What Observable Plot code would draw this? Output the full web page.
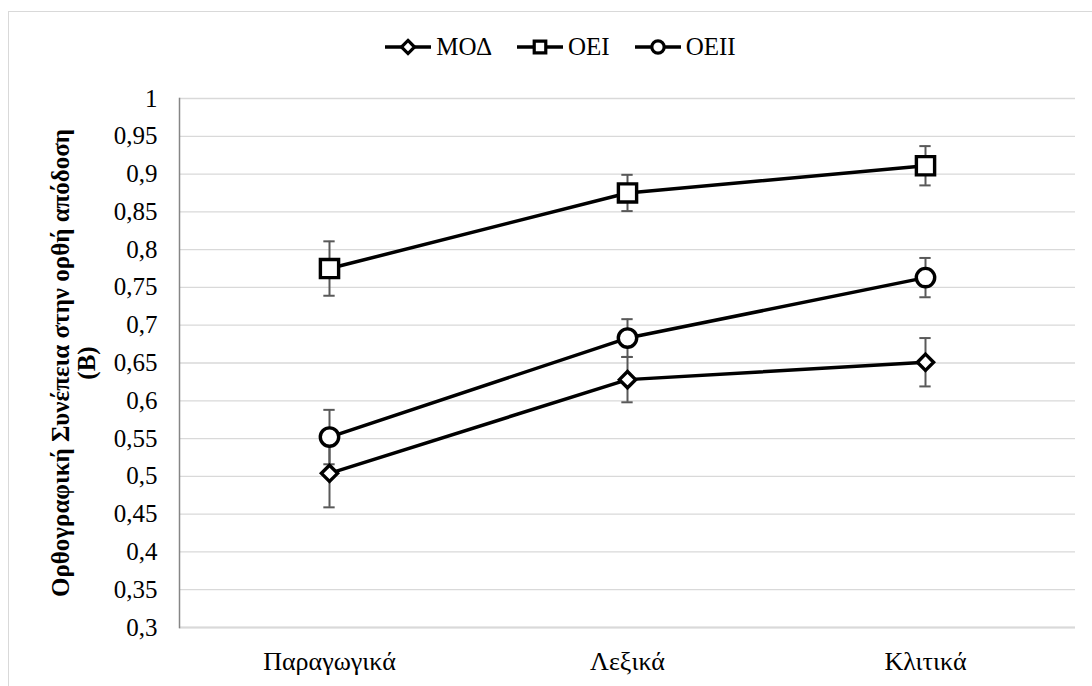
<!DOCTYPE html>
<html>
<head>
<meta charset="utf-8">
<script src="https://cdn.jsdelivr.net/npm/d3@7"></script>
<script src="https://cdn.jsdelivr.net/npm/@observablehq/plot@0.6"></script>
<style>
  html, body { margin: 0; padding: 0; background: #fff; overflow: hidden; font-family: serif; }
  #wrap { position: relative; width: 1092px; height: 686px; font-family: serif; }
  #border { position: absolute; left: 8px; top: 11px; width: 1100px; height: 700px; border: 1px solid #d9d9d9; box-sizing: border-box; }
  #legend { position: relative; height: 70px; display: flex; justify-content: center; align-items: center; gap: 24px; padding-left: 28px; padding-top: 24px; box-sizing: border-box; font-size: 25px; color: #000; }
  .item { display: flex; align-items: center; gap: 4px; }
  #chart { position: relative; }
  #chart svg { display: block; }
  #chart svg text { font-family: serif; }
</style>
</head>
<body>
<div id="wrap">
  <div id="border"></div>
  <div id="legend"></div>
  <div id="chart"></div>
</div>
<script>
// Word types on the x axis
const categories = ["Παραγωγικά", "Λεξικά", "Κλιτικά"];
// Series names and marker symbols
const seriesNames = ["ΜΟΔ", "ΟΕΙ", "ΟΕΙΙ"];
const seriesSymbols = ["diamond2", "square2", "circle"];
// Mean orthographic consistency per group
const modValues = [0.504, 0.628, 0.651];
const oeiValues = [0.775, 0.875, 0.911];
const oeiiValues = [0.552, 0.683, 0.763];
// Error-bar half widths
const modErrors = [0.045, 0.030, 0.032];
const oeiErrors = [0.036, 0.024, 0.026];
const oeiiErrors = [0.036, 0.025, 0.026];
// Y-axis ticks
const yTicks = [0.3, 0.35, 0.4, 0.45, 0.5, 0.55, 0.6, 0.65, 0.7, 0.75, 0.8, 0.85, 0.9, 0.95, 1];
const yTitle = "Ορθογραφική Συνέπεια στην ορθή απόδοση\n(Β)";

const valueSets = [modValues, oeiValues, oeiiValues];
const errorSets = [modErrors, oeiErrors, oeiiErrors];
const markerR = {diamond2: 7.3, square2: 11.6, circle: 9.2};

const rows = [];
seriesNames.forEach((s, si) => {
  categories.forEach((c, ci) => {
    rows.push({series: s, symbol: seriesSymbols[si], cat: c, value: valueSets[si][ci], err: errorSets[si][ci]});
  });
});

const fmt = d => String(+d.toFixed(2)).replace(".", ",");

const W = 1092, ML = 179, MR = 17;
const bandW = (W - ML - MR) / categories.length;
const capHalf = 6;
const capInset = bandW / 2 - capHalf;

const chart = Plot.plot({
  width: W,
  height: 616,
  marginLeft: ML,
  marginRight: MR,
  marginTop: 28,
  marginBottom: 59,
  style: "font-family: serif; color: #000; background: transparent;",
  x: {type: "band", domain: categories, padding: 0, label: null},
  y: {domain: [0.3, 1], label: null},
  marks: [
    Plot.gridY(yTicks, {stroke: "#d9d9d9", strokeOpacity: 1, strokeWidth: 1.3}),
    Plot.ruleY([0.3], {stroke: "#d9d9d9", strokeWidth: 2}),
    Plot.frame({anchor: "left", stroke: "#868686", strokeWidth: 1.5}),
    Plot.axisY({ticks: yTicks, tickSize: 0, tickPadding: 22, tickFormat: fmt, fontSize: 25, label: null}),
    Plot.axisX({tickSize: 0, tickPadding: 24, fontSize: 26, label: null}),
    Plot.text([yTitle], {frameAnchor: "left", rotate: -90, dx: -106, fontWeight: "bold", fontSize: 25, lineHeight: 1.05, textAnchor: "middle", fill: "#000"}),
    // error bars
    Plot.ruleX(rows, {x: "cat", y1: d => d.value - d.err, y2: d => d.value + d.err, stroke: "#595959", strokeWidth: 2}),
    Plot.tickY(rows, {x: "cat", y: d => d.value - d.err, stroke: "#595959", strokeWidth: 2, insetLeft: capInset, insetRight: capInset}),
    Plot.tickY(rows, {x: "cat", y: d => d.value + d.err, stroke: "#595959", strokeWidth: 2, insetLeft: capInset, insetRight: capInset}),
    // series lines and markers
    Plot.line(rows, {x: "cat", y: "value", z: "series", stroke: "#000", strokeWidth: 3.5}),
    ...seriesSymbols.map(sym => Plot.dot(rows.filter(d => d.symbol === sym), {x: "cat", y: "value", symbol: sym, r: markerR[sym], fill: "#fff", stroke: "#000", strokeWidth: 3.4}))
  ]
});
chart.setAttribute("font-family", "serif");
document.getElementById("chart").appendChild(chart);

// Legend: line swatch with the series marker, then the name
const legend = d3.select("#legend");
seriesNames.forEach((name, i) => {
  const item = legend.append("div").attr("class", "item");
  const svg = item.append("svg").attr("width", 48).attr("height", 20);
  svg.append("line").attr("x1", 1).attr("x2", 47).attr("y1", 10).attr("y2", 10).attr("stroke", "#000").attr("stroke-width", 3.5);
  const sym = {diamond2: d3.symbolDiamond2, square2: d3.symbolSquare2, circle: d3.symbolCircle}[seriesSymbols[i]];
  const size = {diamond2: 110, square2: 170, circle: 120}[seriesSymbols[i]];
  svg.append("path").attr("d", d3.symbol(sym, size)()).attr("transform", "translate(24,10)")
    .attr("fill", "#fff").attr("stroke", "#000").attr("stroke-width", 3.2);
  item.append("span").text(name);
});
</script>
</body>
</html>
